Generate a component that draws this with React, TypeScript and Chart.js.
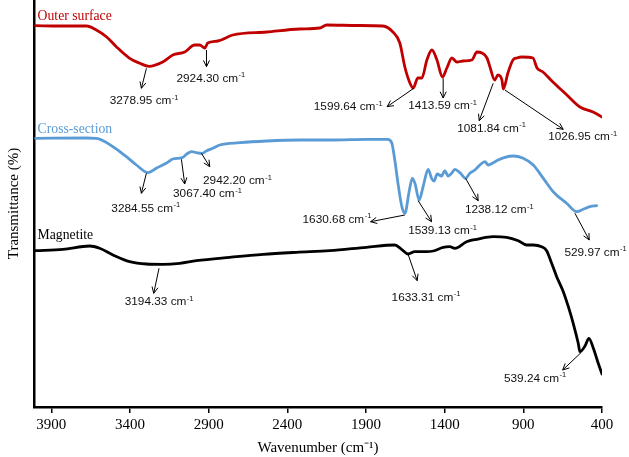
import React, { useEffect, useRef } from "react";
import { Chart, registerables } from "chart.js";

Chart.register(...registerables);

// ---------- data (wavenumber cm-1, transmittance a.u.) ----------
const X_TICKS = [3900, 3400, 2900, 2400, 1900, 1400, 900, 400];
const SERIES_NAMES = ["Outer surface", "Cross-section", "Magnetite"];

const OUTER_SURFACE: number[][] = [
  [4000, 381.3], [3847, 381], [3675, 381], [3614, 377], [3550, 370.3], [3487, 360.3],
  [3402, 348.7], [3338, 343.7], [3279, 340.7], [3192, 345], [3128, 352], [3052, 355],
  [2989, 362], [2957, 362], [2924, 359], [2906, 364], [2842, 366], [2747, 372],
  [2531, 375], [2321, 378], [2194, 379], [2149, 382], [1950, 381.5], [1793, 381],
  [1729, 375], [1685, 364], [1653, 340], [1621, 324], [1600, 319], [1570, 329],
  [1545, 329], [1513, 347], [1481, 357], [1449, 347], [1414, 330], [1386, 339],
  [1354, 349], [1322, 345], [1284, 346], [1227, 347], [1195, 355], [1163, 354],
  [1131, 349], [1112, 340], [1082, 327], [1061, 332], [1036, 327], [1027, 318],
  [998, 334], [966, 347], [941, 349], [909, 350], [839, 349], [813, 339],
  [775, 335], [712, 325], [623, 312], [540, 300], [457, 295], [400, 290],
];

const CROSS_SECTION: number[][] = [
  [4000, 268.7], [3675, 269], [3614, 268.7], [3508, 260.3], [3423, 250.3], [3359, 242],
  [3285, 234.3], [3230, 239], [3167, 244], [3128, 248], [3068, 249.3], [3039, 253],
  [3008, 255.3], [2976, 254.3], [2942, 253.7], [2912, 256.3], [2874, 258.7], [2830, 262],
  [2702, 264.3], [2531, 266], [2321, 267], [2111, 267], [1895, 267.7], [1761, 267.7],
  [1736, 264], [1717, 247], [1697, 224], [1672, 200.3], [1653, 193.7], [1626, 215.3],
  [1606, 228.7], [1589, 223.7], [1562, 207], [1537, 220.3], [1505, 237.7], [1483, 228.7],
  [1468, 226], [1447, 233], [1420, 231], [1399, 236.3], [1378, 231], [1356, 233.7],
  [1335, 237.7], [1303, 234.3], [1267, 228.7], [1240, 233.7], [1208, 237], [1176, 242],
  [1144, 245.3], [1123, 242], [1091, 244.3], [1060, 247], [1017, 249.7], [964, 251],
  [901, 248.7], [837, 242], [773, 228.7], [710, 215.3], [625, 203.7], [561, 195.3],
  [519, 197.7], [476, 200.3], [434, 201.3],
];

const MAGNETITE: number[][] = [
  [4000, 156.3], [3826, 157.7], [3656, 161], [3593, 158.7], [3508, 152], [3402, 145.3],
  [3296, 143], [3190, 142.7], [3084, 143.7], [2978, 146.3], [2766, 149.7], [2554, 152.7],
  [2342, 154.7], [2130, 156.3], [1897, 159.7], [1717, 162], [1674, 157.7], [1633, 153],
  [1589, 155.3], [1515, 155.3], [1473, 156], [1409, 159.7], [1367, 160.3], [1335, 158.7],
  [1261, 165.3], [1197, 167.7], [1091, 170.3], [1006, 169.7], [932, 166.3], [879, 162],
  [837, 162], [784, 160.3], [752, 156.3], [720, 143.7], [688, 130.3], [646, 115.3],
  [614, 100.3], [583, 83.7], [551, 63.7], [540, 55.3], [508, 61], [483, 68.7],
  [455, 58.7], [424, 43.7], [400, 33],
];

const SERIES = [OUTER_SURFACE, CROSS_SECTION, MAGNETITE];

// peak annotations: series index, wavenumber of arrow origin, label
const PEAK_SERIES = [0, 0, 0, 0, 0, 0, 1, 1, 1, 1, 1, 1, 1, 2, 2, 2];
const PEAK_AT = [3279, 2924, 1600, 1414, 1082, 1027, 3285, 3068, 2942, 1653, 1562, 1267, 572, 3190, 1633, 540];
const PEAK_LABELS = [
  "3278.95", "2924.30", "1599.64", "1413.59", "1081.84", "1026.95",
  "3284.55", "3067.40", "2942.20", "1630.68", "1539.13", "1238.12", "529.97",
  "3194.33", "1633.31", "539.24",
];

// ---------- layout / style ----------
const COLORS = ["#C00000", "#5B9BD5", "#000000"];
const NAME_POS = [[3987, 387.5], [3987, 274.3], [3987, 168]];
// offsets (px) relative to curve point: arrow start, arrow tip, label (left, baseline)
const PEAK_LAYOUT = [
  { from: [-2.6, 2], to: [-7.6, 22], text: [-39.3, 37.7] },
  { from: [1.6, 2], to: [1.6, 18.7], text: [-28.4, 33.7] },
  { from: [0.6, 0.3], to: [-26.1, 18.7], text: [-99.4, 22] },
  { from: [0.7, 1.3], to: [0.7, 21], text: [-34.3, 32.3] },
  { from: [-1.5, 3.3], to: [-15.5, 40.7], text: [-37.5, 51.7] },
  { from: [1.6, 1], to: [59.9, 40.3], text: [44.9, 51] },
  { from: [-1.7, 0.6], to: [-6.7, 20.6], text: [-36.7, 39] },
  { from: [-0.8, 1.6], to: [2.5, 26.3], text: [-9.2, 39.6] },
  { from: [-0.6, 0], to: [7.7, 13.4], text: [1, 30.7] },
  { from: [0, 1.7], to: [-34.3, 8.4], text: [-102.3, 9.4] },
  { from: [-1, 0.7], to: [12.4, 21.7], text: [-11, 34] },
  { from: [0, 0], to: [12.6, 22.4], text: [-0.7, 35] },
  { from: [0, 3], to: [14.3, 29.7], text: [-10.5, 45.7] },
  { from: [-4, 4], to: [-9.3, 29], text: [-38.3, 40.7] },
  { from: [0, 0], to: [9.2, 26.7], text: [-16.4, 46.7] },
  { from: [1, 1], to: [-17.3, 18.3], text: [-76, 30] },
];

function interp(series: number[][], wn: number): number {
  for (let i = 0; i < series.length - 1; i++) {
    const [x0, y0] = series[i];
    const [x1, y1] = series[i + 1];
    if ((wn <= x0 && wn >= x1) || (wn >= x0 && wn <= x1)) {
      if (x0 === x1) return y0;
      return y0 + ((wn - x0) / (x1 - x0)) * (y1 - y0);
    }
  }
  return series[series.length - 1][1];
}

const annotPlugin = {
  id: "ftirAnnotations",
  afterDatasetsDraw(chart: any) {
    const { ctx } = chart;
    const xs = chart.scales.x;
    const ys = chart.scales.y;
    ctx.save();
    ctx.textAlign = "left";
    ctx.textBaseline = "alphabetic";
    SERIES_NAMES.forEach((name, i) => {
      ctx.font = '13.7px "Liberation Serif"';
      ctx.fillStyle = COLORS[i];
      ctx.fillText(name, xs.getPixelForValue(NAME_POS[i][0]), ys.getPixelForValue(NAME_POS[i][1]));
    });
    PEAK_AT.forEach((at, i) => {
      const L = PEAK_LAYOUT[i];
      const ax = xs.getPixelForValue(at);
      const ay = ys.getPixelForValue(interp(SERIES[PEAK_SERIES[i]], at));
      const fx = ax + L.from[0], fy = ay + L.from[1];
      const tx = ax + L.to[0], ty = ay + L.to[1];
      ctx.strokeStyle = "#000";
      ctx.lineWidth = 1;
      ctx.beginPath();
      ctx.moveTo(fx, fy);
      ctx.lineTo(tx, ty);
      ctx.stroke();
      const ang = Math.atan2(ty - fy, tx - fx);
      const h = 7, a = 0.45;
      ctx.beginPath();
      ctx.moveTo(tx - h * Math.cos(ang - a), ty - h * Math.sin(ang - a));
      ctx.lineTo(tx, ty);
      ctx.lineTo(tx - h * Math.cos(ang + a), ty - h * Math.sin(ang + a));
      ctx.stroke();
      const lx = ax + L.text[0], ly = ay + L.text[1];
      ctx.fillStyle = "#111";
      ctx.font = '11.8px "Liberation Sans"';
      const main = PEAK_LABELS[i] + " cm";
      ctx.fillText(main, lx, ly);
      const w = ctx.measureText(main).width;
      ctx.font = '7.5px "Liberation Sans"';
      ctx.fillText("-1", lx + w + 0.5, ly - 4.5);
    });
    ctx.restore();
  },
};

export default function App() {
  const canvasRef = useRef<HTMLCanvasElement | null>(null);

  useEffect(() => {
    if (!canvasRef.current) return;
    const chart = new Chart(canvasRef.current, {
      type: "line",
      data: {
        datasets: SERIES.map((s, i) => ({
          label: SERIES_NAMES[i],
          data: s.map(([x, y]) => ({ x, y })),
          borderColor: COLORS[i],
          backgroundColor: COLORS[i],
          borderWidth: 2.8,
          pointRadius: 0,
          fill: false,
          cubicInterpolationMode: "monotone" as const,
          borderJoinStyle: "round" as const,
          borderCapStyle: "round" as const,
        })),
      },
      options: {
        animation: false,
        responsive: true,
        maintainAspectRatio: false,
        layout: { padding: { left: 0, right: 27, top: 0, bottom: 0 } },
        plugins: {
          legend: { display: false },
          tooltip: { enabled: false },
        },
        scales: {
          x: {
            type: "linear",
            reverse: true,
            min: 400,
            max: 4010,
            afterBuildTicks: (scale: any) => {
              scale.ticks = X_TICKS.map((v) => ({ value: v }));
            },
            afterFit: (scale: any) => {
              scale.height = 50;
            },
            grid: {
              display: true,
              drawOnChartArea: false,
              drawTicks: true,
              tickLength: 6,
              color: "#000",
              lineWidth: 1.5,
            },
            border: { display: true, color: "#000", width: 2.5 },
            ticks: {
              color: "#000",
              font: { family: '"Liberation Serif"', size: 15 },
              padding: 3,
              maxRotation: 0,
              autoSkip: false,
              callback: (v: any) => String(v),
            },
            title: {
              display: true,
              text: "Wavenumber (cm⁻¹)",
              color: "#000",
              font: { family: '"Liberation Serif"', size: 15 },
              padding: { top: 0, bottom: 0 },
            },
          },
          y: {
            type: "linear",
            min: 0,
            max: 407,
            afterFit: (scale: any) => {
              scale.width = 34;
            },
            grid: { display: false },
            border: { display: true, color: "#000", width: 2.5 },
            ticks: { display: false },
            title: {
              display: true,
              text: "Transmittance (%)",
              color: "#000",
              font: { family: '"Liberation Serif"', size: 15 },
              padding: { top: 5, bottom: 0 },
            },
          },
        },
      },
      plugins: [annotPlugin],
    } as any);
    return () => chart.destroy();
  }, []);

  return (
    <div style={{ position: "fixed", left: 0, top: 0, width: 629, height: 457, background: "#fff" }}>
      <canvas ref={canvasRef} />
    </div>
  );
}
